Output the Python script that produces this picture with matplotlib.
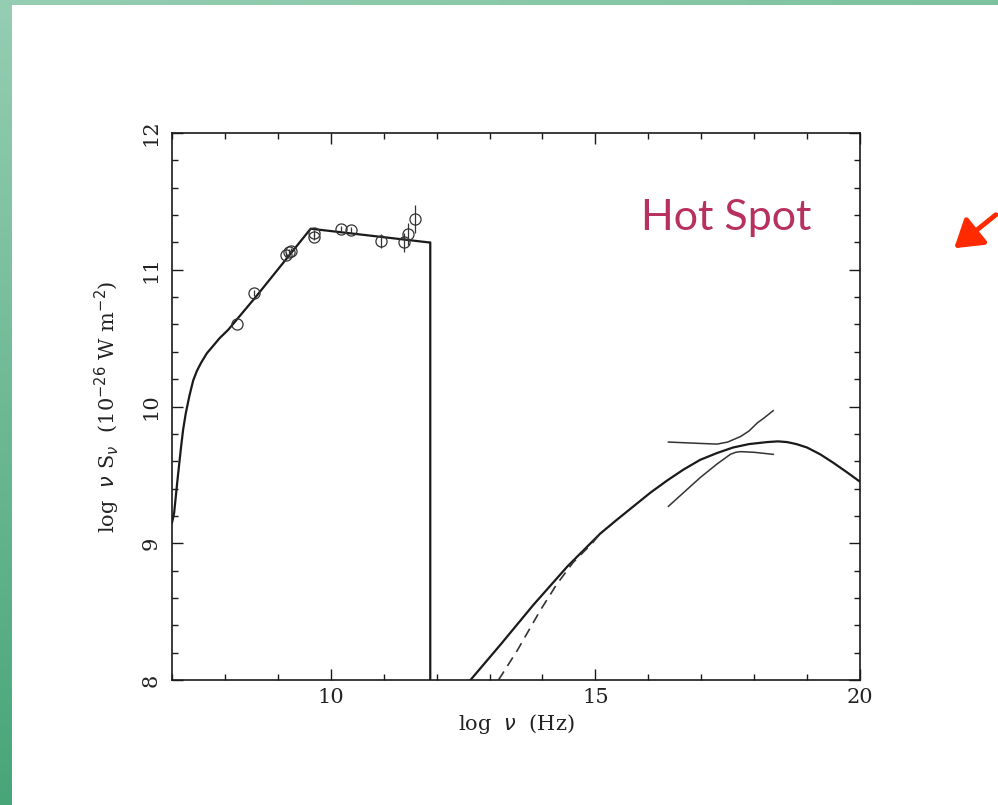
import numpy as np
import matplotlib
matplotlib.use("Agg")
import matplotlib.pyplot as plt
from matplotlib.patches import FancyArrowPatch
from matplotlib.ticker import MultipleLocator

# radio/mm synchrotron model (log nu, log nu S_nu)
sync_x = [7.0, 7.04, 7.1, 7.17, 7.21, 7.26, 7.33, 7.40, 7.47, 7.55, 7.66, 7.77, 7.9, 8.06,
          8.58, 9.62, 11.85, 11.88, 11.88]
sync_y = [9.15, 9.22, 9.45, 9.70, 9.83, 9.95, 10.08, 10.19, 10.26, 10.32, 10.39, 10.44, 10.50, 10.56,
          10.80, 11.30, 11.20, 11.20, 8.0]

# measured fluxes with errors
obs_x = [8.23, 8.55, 9.15, 9.21, 9.25, 9.68, 9.68, 10.19, 10.38, 10.94, 11.38, 11.45, 11.60]
obs_y = [10.60, 10.83, 11.11, 11.13, 11.14, 11.27, 11.24, 11.30, 11.29, 11.21, 11.20, 11.26, 11.37]
obs_err = [0.0, 0.02, 0.02, 0.02, 0.02, 0.02, 0.02, 0.02, 0.02, 0.05, 0.07, 0.08, 0.1]

# inverse Compton model (solid) and alternative model (dashed)
ic_x = [12.64, 13.21, 13.83, 14.47, 15.09, 15.4, 15.72, 16.04, 16.36, 16.67, 16.98, 17.3, 17.6,
        17.9, 18.25, 18.45, 18.62, 18.8, 19.0, 19.25, 19.49, 19.75, 20.0]
ic_y = [8.0, 8.26, 8.55, 8.83, 9.07, 9.17, 9.27, 9.37, 9.46, 9.54, 9.61, 9.66, 9.70,
        9.725, 9.74, 9.745, 9.74, 9.725, 9.70, 9.65, 9.59, 9.52, 9.45]
alt_x = [13.17, 13.53, 13.96, 14.27, 14.58, 14.94, 15.09]
alt_y = [8.0, 8.22, 8.51, 8.70, 8.86, 9.00, 9.07]

# X-ray bow-tie
bow_up_x = [16.38, 16.98, 17.3, 17.5, 17.74, 17.9, 18.06, 18.2, 18.36]
bow_up_y = [9.74, 9.73, 9.725, 9.74, 9.78, 9.82, 9.88, 9.92, 9.97]
bow_lo_x = [16.38, 16.98, 17.3, 17.55, 17.65, 17.74, 18.0, 18.36]
bow_lo_y = [9.27, 9.48, 9.58, 9.65, 9.665, 9.67, 9.665, 9.65]

W, H = 998, 805
fig = plt.figure(figsize=(W / 100, H / 100), dpi=100)

# slide background with green frame on top and left
bg = fig.add_axes([0, 0, 1, 1], zorder=-10)
bg.set_xlim(0, W)
bg.set_ylim(H, 0)
bg.axis("off")
img = np.ones((H, W, 3))
c_tl = np.array([0x96, 0xce, 0xb3]) / 255
c_tr = np.array([0x7d, 0xc2, 0x9f]) / 255
c_bl = np.array([0x48, 0xa5, 0x78]) / 255
t = np.linspace(0, 1, W)[:, None]
img[:6, :, :] = (c_tl * (1 - t) + c_tr * t)[None, :, :]
s = np.linspace(0, 1, H)[:, None]
img[:, :12, :] = (c_tl * (1 - s) + c_bl * s)[:, None, :]
bg.imshow(img, extent=[0, W, H, 0], aspect="auto")

ax = fig.add_axes([172 / W, 1 - 680 / H, (860 - 172) / W, (680 - 133) / H])
lc = "#1a1a1a"
ax.plot(sync_x, sync_y, color=lc, lw=1.6, solid_joinstyle="round")
ax.errorbar(obs_x, obs_y, yerr=obs_err, fmt="o", ms=8, mfc="none", mec="#333333",
            mew=0.9, ecolor="#333333", elinewidth=0.9, capsize=0)
ax.plot(ic_x, ic_y, color=lc, lw=1.6, solid_joinstyle="round")
ax.plot(alt_x, alt_y, color="#333333", lw=1.2, dashes=(6, 4))
ax.plot(bow_up_x, bow_up_y, color="#333333", lw=1.1)
ax.plot(bow_lo_x, bow_lo_y, color="#333333", lw=1.1)

ax.set_xlim(7, 20)
ax.set_ylim(8, 12)
ax.xaxis.set_major_locator(MultipleLocator(5))
ax.xaxis.set_minor_locator(MultipleLocator(1))
ax.yaxis.set_major_locator(MultipleLocator(1))
ax.yaxis.set_minor_locator(MultipleLocator(0.2))
ax.tick_params(which="both", direction="in", top=True, right=True, color=lc, width=1.0)
ax.tick_params(which="major", length=8)
ax.tick_params(which="minor", length=4.5)
ax.tick_params(axis="x", labelsize=15, pad=6)
ax.tick_params(axis="y", labelsize=15, pad=8)
for lab in ax.get_xticklabels() + ax.get_yticklabels():
    lab.set_family("DejaVu Serif")
    lab.set_color("#222222")
for lab in ax.get_yticklabels():
    lab.set_rotation(90)
    lab.set_va("center")
for sp in ax.spines.values():
    sp.set_linewidth(1.2)
    sp.set_color(lc)

plt.rcParams["mathtext.fontset"] = "dejavuserif"
ax.set_xlabel(r"log  $\nu$  (Hz)", fontsize=15, family="DejaVu Serif", color="#222222", labelpad=3)
ax.set_ylabel(r"log  $\nu$ S$_\nu$  (10$^{-26}$ W m$^{-2}$)", fontsize=15,
              family="DejaVu Serif", color="#222222", labelpad=14)

fig.text(726 / W, 1 - 218 / H, "Hot Spot", fontsize=31, color="#b8305e",
         family="Lato", ha="center", va="center")

arrow = FancyArrowPatch((1.0, 1 - 213 / H), (952 / W, 1 - 250 / H),
                        transform=fig.transFigure, arrowstyle="-|>,head_length=11,head_width=7",
                        color="#ff2a00", lw=3.5, mutation_scale=1.5)
fig.add_artist(arrow)

fig.savefig("out.png", dpi=100)
